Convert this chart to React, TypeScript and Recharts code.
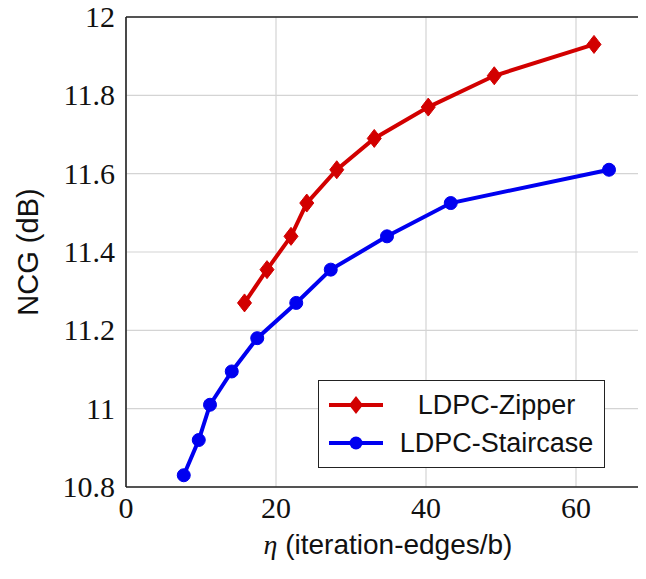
import { CartesianGrid, Line, LineChart, ReferenceLine, XAxis, YAxis } from "recharts";

// values
const zipperEta = [15.8, 18.8, 22.0, 24.1, 28.1, 33.1, 40.3, 49.1, 62.4];
const zipperNcg = [11.27, 11.355, 11.44, 11.525, 11.61, 11.69, 11.77, 11.85, 11.93];
const staircaseEta = [7.7, 9.7, 11.2, 14.1, 17.5, 22.7, 27.3, 34.8, 43.3, 64.4];
const staircaseNcg = [10.83, 10.92, 11.01, 11.095, 11.18, 11.27, 11.355, 11.44, 11.525, 11.61];
const xTicks = [0, 20, 40, 60];
const yTicks = [10.8, 11, 11.2, 11.4, 11.6, 11.8, 12];

const RED = "#d20000";
const BLUE = "#0000f0";
const SERIF = "Liberation Serif";
const SANS = "Liberation Sans";

const zipper = zipperEta.map((x, i) => ({ x, y: zipperNcg[i] }));
const staircase = staircaseEta.map((x, i) => ({ x, y: staircaseNcg[i] }));

function Diamond(props: any) {
  const { cx, cy } = props;
  if (cx == null || cy == null) return null;
  return <path d={`M${cx},${cy - 9}L${cx + 7},${cy}L${cx},${cy + 9}L${cx - 7},${cy}Z`} fill={RED} stroke={RED} />;
}

function Dot(props: any) {
  const { cx, cy } = props;
  if (cx == null || cy == null) return null;
  return <circle cx={cx} cy={cy} r={6.5} fill={BLUE} stroke={BLUE} />;
}

function XTick(props: any) {
  const { x, y, payload } = props;
  return (
    <text x={x} y={y + 23} textAnchor="middle" fontFamily={SERIF} fontSize={30} fill="#111">
      {payload.value}
    </text>
  );
}

function YTick(props: any) {
  const { x, y, payload } = props;
  return (
    <text x={x - 3} y={y + 10} textAnchor="end" fontFamily={SERIF} fontSize={30} fill="#111">
      {String(Number(Number(payload.value).toFixed(1)))}
    </text>
  );
}

function LegendRow({ color, label, marker }: { color: string; label: string; marker: "diamond" | "circle" }) {
  return (
    <div style={{ display: "flex", alignItems: "center", height: 38 }}>
      <svg width={62} height={24} style={{ marginLeft: 8, flex: "none" }}>
        <line x1={2} y1={12} x2={56} y2={12} stroke={color} strokeWidth={4} />
        {marker === "diamond" ? (
          <path d="M29,3L36,12L29,21L22,12Z" fill={color} />
        ) : (
          <circle cx={29} cy={12} r={6.5} fill={color} />
        )}
      </svg>
      <span
        style={{ flex: 1, textAlign: "center", fontFamily: SANS, fontSize: 27, color: "#111", whiteSpace: "nowrap" }}
      >
        {label}
      </span>
    </div>
  );
}

export default function App() {
  return (
    <div style={{ margin: -8, width: 646, height: 579, position: "relative", background: "#fff" }}>
      {/* right margin is negative so the plot frame runs off the right edge, as in the source figure */}
      <LineChart width={646} height={579} margin={{ top: 17, right: -5, left: 0, bottom: 0 }}>
        <CartesianGrid stroke="#d4d4d4" strokeWidth={1.2} />
        <XAxis
          type="number"
          dataKey="x"
          domain={[0, 70]}
          ticks={xTicks}
          tickLine={false}
          axisLine={{ stroke: "#222", strokeWidth: 1.6 }}
          height={92}
          tick={<XTick />}
        />
        <YAxis
          type="number"
          dataKey="y"
          domain={[10.8, 12]}
          ticks={yTicks}
          tickLine={false}
          axisLine={{ stroke: "#222", strokeWidth: 1.6 }}
          width={126}
          tick={<YTick />}
        />
        <ReferenceLine y={12} stroke="#222" strokeWidth={1.6} />
        <Line
          data={zipper}
          dataKey="y"
          stroke={RED}
          strokeWidth={4}
          dot={<Diamond />}
          isAnimationActive={false}
        />
        <Line
          data={staircase}
          dataKey="y"
          stroke={BLUE}
          strokeWidth={4}
          dot={<Dot />}
          isAnimationActive={false}
        />
      </LineChart>
      <div
        style={{
          position: "absolute",
          left: 318,
          top: 380,
          width: 287,
          height: 88,
          border: "1.6px solid #222",
          background: "#fff",
          paddingTop: 5,
          boxSizing: "border-box",
        }}
      >
        <LegendRow color={RED} label="LDPC-Zipper" marker="diamond" />
        <LegendRow color={BLUE} label="LDPC-Staircase" marker="circle" />
      </div>
      <div
        style={{
          position: "absolute",
          left: 28,
          top: 252,
          transform: "translate(-50%, -50%) rotate(-90deg)",
          fontFamily: SANS,
          fontSize: 29,
          color: "#111",
          whiteSpace: "nowrap",
        }}
      >
        NCG (dB)
      </div>
      <div
        style={{
          position: "absolute",
          left: 388,
          top: 545,
          transform: "translate(-50%, -50%)",
          fontFamily: SANS,
          fontSize: 28,
          color: "#111",
          whiteSpace: "nowrap",
        }}
      >
        <span style={{ fontFamily: SERIF, fontStyle: "italic" }}>η</span> (iteration-edges/b)
      </div>
    </div>
  );
}
